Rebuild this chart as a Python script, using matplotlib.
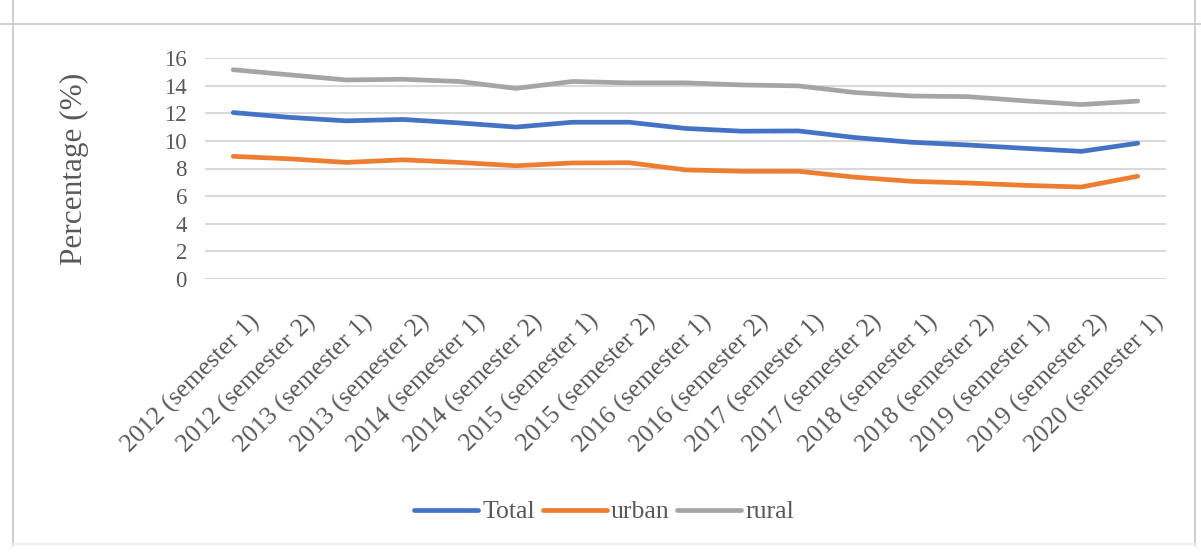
import numpy as np
import matplotlib.pyplot as plt
import matplotlib.transforms as mtransforms
from matplotlib.lines import Line2D

# data
periods = ['2012 (semester 1)', '2012 (semester 2)', '2013 (semester 1)', '2013 (semester 2)',
           '2014 (semester 1)', '2014 (semester 2)', '2015 (semester 1)', '2015 (semester 2)',
           '2016 (semester 1)', '2016 (semester 2)', '2017 (semester 1)', '2017 (semester 2)',
           '2018 (semester 1)', '2018 (semester 2)', '2019 (semester 1)', '2019 (semester 2)',
           '2020 (semester 1)']
total = [12.05, 11.7, 11.45, 11.55, 11.3, 11.0, 11.35, 11.35, 10.9, 10.7, 10.72, 10.24, 9.9, 9.7, 9.46, 9.24, 9.83]
urban = [8.88, 8.7, 8.44, 8.63, 8.44, 8.2, 8.4, 8.42, 7.9, 7.8, 7.8, 7.37, 7.07, 6.95, 6.78, 6.66, 7.44]
rural = [15.15, 14.78, 14.41, 14.46, 14.3, 13.8, 14.3, 14.2, 14.2, 14.05, 13.98, 13.5, 13.25, 13.2, 12.9, 12.63, 12.88]

plt.rcParams['font.family'] = ['Liberation Serif', 'DejaVu Serif']
txt = '#595959'

fig = plt.figure(figsize=(12.01, 5.53), dpi=100)
ax = fig.add_axes([205 / 1201, 1 - 279 / 553, (1166 - 205) / 1201, (279 - 58) / 553])

x = np.arange(len(periods))
ax.plot(x, total, c='#4472C4', lw=3.4, label='Total', solid_capstyle='round')
ax.plot(x, urban, c='#ED7D31', lw=3.4, label='urban', solid_capstyle='round')
ax.plot(x, rural, c='#A5A5A5', lw=3.4, label='rural', solid_capstyle='round')

ax.set_xlim(-0.5, len(periods) - 0.5)
ax.set_ylim(0, 16)
ax.set_yticks(np.arange(0, 17, 2))
ax.grid(axis='y', color='#d9d9d9', lw=1.5)
ax.set_axisbelow(True)
for s in ax.spines.values():
    s.set_visible(False)
ax.tick_params(length=0, colors=txt)
ax.tick_params(axis='y', labelsize=16.5, pad=13)
ax.set_xticks(x)
ax.set_xticklabels(periods, rotation=45, ha='right', va='center', rotation_mode='anchor', fontsize=18.5)
ax.tick_params(axis='x', pad=28)
# labels end a little right of their tick, as in the original
shift = mtransforms.ScaledTranslation(23 / 100, 0, fig.dpi_scale_trans)
for lab in ax.get_xticklabels():
    lab.set_transform(lab.get_transform() + shift)
ax.set_ylabel('Percentage (%)', fontsize=22.5, color=txt, labelpad=54)

leg = fig.legend(loc='center', bbox_to_anchor=(0.503, 1 - 512 / 553), ncol=3, frameon=False,
                 fontsize=18.5, handlelength=2.5, handletextpad=0.15, columnspacing=0.3)
for t in leg.get_texts():
    t.set_color(txt)

# light frame around the chart
fig.add_artist(Line2D([0.0, 1.0], [1 - 24 / 553] * 2, color='#d0d0d0', lw=1.5))
fig.add_artist(Line2D([13 / 1201] * 2, [0.015, 1.0], color='#d0d0d0', lw=1.5))
fig.add_artist(Line2D([1195 / 1201] * 2, [0.015, 1.0], color='#d0d0d0', lw=1.5))
fig.add_artist(Line2D([13 / 1201, 1195 / 1201], [0.017] * 2, color='#eeeeee', lw=1.5))

fig.savefig('out.png', dpi=100)
